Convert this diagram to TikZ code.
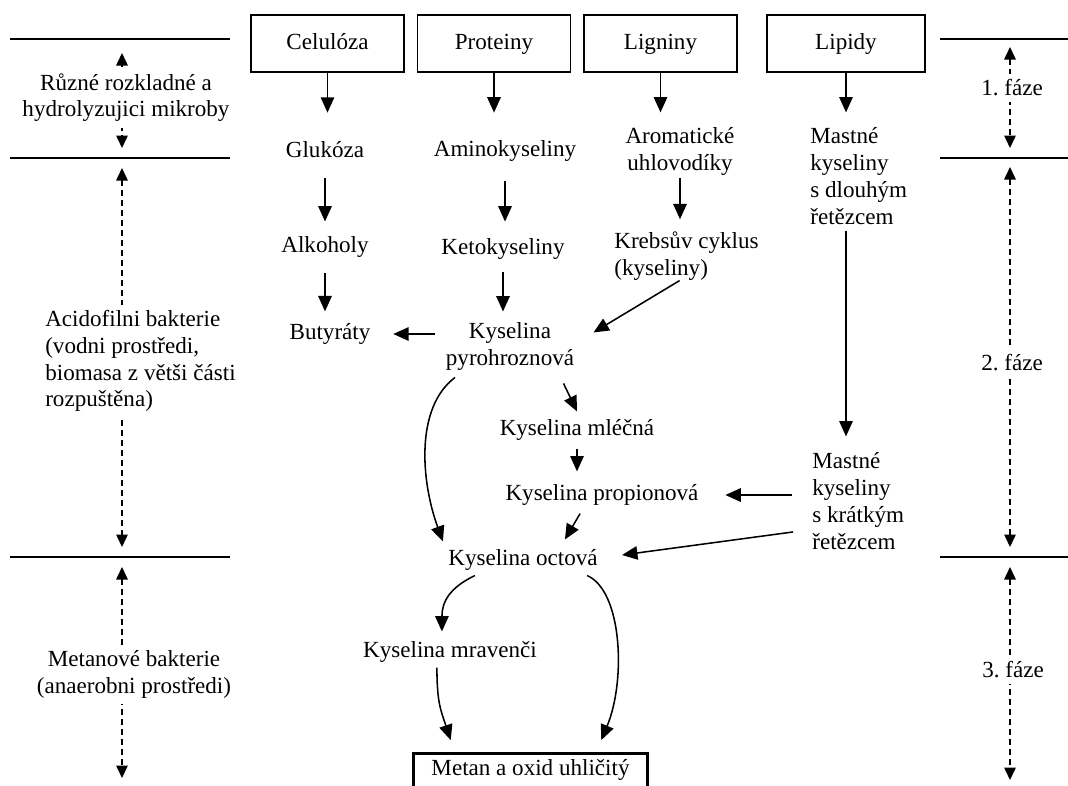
\documentclass[tikz,border=0pt]{standalone}
\usepackage{fontspec}
\setmainfont{Liberation Serif}
\usetikzlibrary{positioning, calc, arrows.meta}
\tikzset{
    base/.style={
        font=\fontsize{12}{13.9}\selectfont\frenchspacing,
        inner sep=0pt
    },
    source/.style={
        base,
        rectangle,
        draw,
        line width=0.9pt,
        minimum width=79.6pt,
        minimum height=29.6pt,
        text height=8.3pt,
        text depth=2.4pt
    },
    stage/.style={
        base,
        align=center
    },
    product/.style={
        base,
        rectangle,
        draw,
        line width=1.6pt,
        minimum width=122pt,
        inner ysep=3pt,
        text height=8.4pt,
        text depth=20pt
    },
    phase/.style={
        base,
        align=center,
        fill=white,
        inner xsep=1pt,
        inner ysep=3pt
    },
    flow/.style={
        -{Triangle[length=8pt, width=7pt]},
        line width=0.8pt
    },
    phasespan/.style={
        {Triangle[length=6.5pt, width=6pt]}-{Triangle[length=6.5pt, width=6pt]},
        line width=0.7pt,
        dash pattern=on 3pt off 2.2pt
    },
    divider/.style={
        line width=0.8pt
    }
}
\begin{document}
\begin{tikzpicture}[x=0.52pt, y=-0.52pt]
  \clip (0,0) rectangle (1068,785);

  % Dividers between phases
  \foreach \y in {39,158,557} {
    \draw[divider] (10,\y) -- (230,\y);
    \draw[divider] (940,\y) -- (1068,\y);
  }

  % Phase spans
  \foreach \a/\b in {53/148,168/547,567/778}
    \draw[phasespan] (122,\a) -- (122,\b);
  \foreach \a/\b in {47/148,167/547,567/780}
    \draw[phasespan] (1010,\a) -- (1010,\b);

  % Phase labels
  \node[phase, inner ysep=3.5pt] (mikroby) at (126,97.5) {Různé rozkladné a\\hydrolyzujici mikroby};
  \node[phase, align=left, anchor=west] (acido) at (43,361) {Acidofilni bakterie\\(vodni prostředi,\\biomasa z větši části\\rozpuštěna)};
  \node[phase] (metanove) at (134,674.5) {Metanové bakterie\\(anaerobni prostředi)};
  \node[phase] (faze1) at (1012,88) {1. fáze};
  \node[phase] (faze2) at (1012,363) {2. fáze};
  \node[phase] (faze3) at (1013,670) {3. fáze};

  % Sources
  \node[source] (celuloza) at (327.5,43.5) {Celulóza};
  \node[source] (proteiny) at (494,43.5) {Proteiny};
  \node[source] (ligniny) at (660.5,43.5) {Ligniny};
  \node[source, minimum width=82pt] (lipidy) at (846,43.5) {Lipidy};

  % Intermediates
  \node[stage] (glukoza) at (325,150) {Glukóza};
  \node[stage] (amino) at (505,151) {Aminokyseliny};
  \node[stage] (aromat) at (680,151.5) {Aromatické\\uhlovodíky};
  \node[stage, align=left, anchor=west] (mastdl) at (810,176) {Mastné\\kyseliny\\s dlouhým\\řetězcem};
  \node[stage] (alkoholy) at (325,247) {Alkoholy};
  \node[stage] (keto) at (503,249) {Ketokyseliny};
  \node[stage, align=left, anchor=west] (krebs) at (614,256) {Krebsův cyklus\\(kyseliny)};
  \node[stage] (butyraty) at (330,334) {Butyráty};
  \node[stage] (pyro) at (510,346.5) {Kyselina\\pyrohroznová};
  \node[stage] (mlecna) at (577,430) {Kyselina mléčná};
  \node[stage] (propion) at (602,495) {Kyselina propionová};
  \node[stage, align=left, anchor=west] (mastkr) at (812,501) {Mastné\\kyseliny\\s krátkým\\řetězcem};
  \node[stage] (octova) at (523,560) {Kyselina octová};
  \node[stage] (mravenci) at (450,652) {Kyselina mravenči};
  \node[product, anchor=north] (metan) at (530.5,752) {Metan a oxid uhličitý};

  % Hydrolysis
  \draw[flow, shorten >=15pt] (celuloza.south) -- (celuloza.south |- glukoza.north);
  \draw[flow, shorten >=14.3pt] (proteiny.south) -- (proteiny.south |- amino.north);
  \draw[flow, shorten >=7.7pt] (ligniny.south) -- (ligniny.south |- aromat.north);
  \draw[flow, shorten >=7.8pt] (lipidy.south) -- (lipidy.south |- mastdl.north);

  % Acid formation
  \draw[flow, shorten <=10pt, shorten >=7.6pt] (glukoza.south) -- (glukoza.south |- alkoholy.north);
  \draw[flow, shorten <=9.7pt, shorten >=8.6pt] (amino.south) -- (amino.south |- keto.north);
  \draw[flow, shorten <=1.4pt, shorten >=6.3pt] (aromat.south) -- (aromat.south |- krebs.north);
  \draw[flow, shorten <=7.6pt, shorten >=6.1pt] (alkoholy.south) -- (alkoholy.south |- butyraty.north);
  \draw[flow, shorten <=6.5pt, shorten >=5.6pt] (keto.south) -- (keto.south |- pyro.north);
  \draw[flow] ([xshift=-3.6pt]krebs.south) -- ([xshift=9.9pt, yshift=-5.3pt]pyro.north east);
  \draw[flow, shorten <=5.7pt, shorten >=11.7pt] (pyro.west |- butyraty.east) -- (butyraty.east);
  \draw[flow] ([xshift=-28.6pt, yshift=-3.5pt]pyro.south) .. controls +(-40,30) and +(-22,-60) .. ([xshift=-2.6pt, yshift=4pt]octova.north west);
  \draw[flow] ([xshift=-5.7pt, yshift=-6.6pt]pyro.south east) -- ([yshift=4pt]mlecna.north);
  \draw[flow, shorten <=4pt, shorten >=6.6pt] (mlecna.south) -- (mlecna.south |- propion.north);
  \draw[flow] ([xshift=-11.4pt, yshift=-4pt]propion.south) -- ([xshift=21.8pt, yshift=5pt]octova.north);
  \draw[flow, shorten <=3.1pt, shorten >=8.3pt] (lipidy.south |- mastdl.south) -- (lipidy.south |- mastkr.north);
  \draw[flow, shorten <=10.4pt, shorten >=13.8pt] (mastkr.west |- propion.east) -- (propion.east);
  \draw[flow] ([xshift=-9.9pt, yshift=-16.1pt]mastkr.west) -- ([xshift=12.5pt, yshift=2.6pt]octova.east);

  % Methane formation
  \draw[flow] ([xshift=-25pt, yshift=-2.4pt]octova.south) .. controls +(-25,12) and +(0,-30) .. ([xshift=-4.2pt, yshift=5pt]mravenci.north);
  \draw[flow] ([xshift=-6.8pt, yshift=-2.4pt]mravenci.south) .. controls +(0,35) and +(-10,-30) .. ([xshift=20.3pt, yshift=6.2pt]metan.north west);
  \draw[flow] ([xshift=-5.7pt, yshift=-2.4pt]octova.south east) .. controls +(35,15) and +(25,-60) .. ([xshift=-25pt, yshift=6.2pt]metan.north east);

\end{tikzpicture}
\end{document}
